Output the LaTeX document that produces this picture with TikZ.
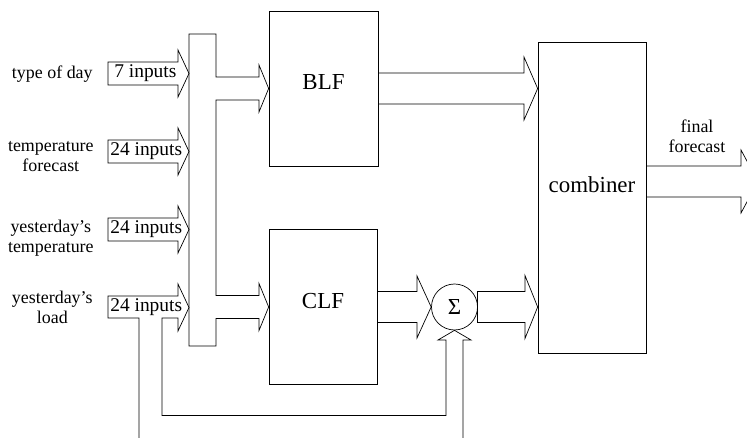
\documentclass[tikz,border=0pt]{standalone}
\usepackage{fontspec}
\setmainfont{Liberation Serif}
\usepackage{tikz}
\usetikzlibrary{positioning}

\begin{document}
\begin{tikzpicture}[
    x=1bp, y=-1bp,
    line width=0.7pt,
    line join=miter,
    block/.style={draw, minimum width=108bp, font=\fontsize{23}{26}\selectfont,
                  text depth=13bp},
    sumnode/.style={draw, circle, minimum size=46bp, inner sep=0pt,
                    font=\fontsize{23}{26}\selectfont},
    side/.style={align=center, inner sep=0pt, font=\fontsize{18}{20}\selectfont},
    count/.style={anchor=west, inner sep=0pt, font=\fontsize{19.5}{22}\selectfont}
]
\useasboundingbox (0,0) rectangle (747,438);

% forecasters and combiner
\node[block, minimum width=109bp, minimum height=155bp] (blf) at (323.5,88.5) {BLF};
\node[block, minimum height=155bp] (clf) at (323,307) {CLF};
\node[block, minimum height=311bp, text depth=25bp] (comb) at (592,197.5) {combiner};
\node[sumnode] (sigma) at (454.5,307) {Σ};

% inputs
\node[side, anchor=east] (day) at (93,74) {type of day};
\node[side, anchor=east] (tfc) at (94,157) {temperature\\forecast};
\node[side, anchor=east] (ytemp) at (94,238) {yesterday’s\\temperature};
\node[side, anchor=east] (yload) at (93,307) {yesterday’s\\load};

\draw (108,62) -- (178,62) -- (178,50) -- (189,73.5) -- (178,97) -- (178,85)
    -- (108,85) -- cycle;
\draw (108,140) -- (178,140) -- (178,128) -- (189,151.5) -- (178,175) -- (178,163)
    -- (108,163) -- cycle;
\draw (108,218) -- (178,218) -- (178,206) -- (189,229.5) -- (178,253) -- (178,241)
    -- (108,241) -- cycle;
\draw (139,445) -- (139,318) -- (108,318) -- (108,296) -- (178,296) -- (178,284)
    -- (189,307.5) -- (178,331) -- (178,318) -- (162,318) -- (162,415.5)
    -- (446,415.5) -- (446,340) -- (438,340) -- (sigma.south) -- (471,340)
    -- (463,340) -- (463,445);

\node[count] (n1) at (114,73.5) {7 inputs};
\node[count] (n2) at (110,151.5) {24 inputs};
\node[count] (n3) at (110,229.5) {24 inputs};
\node[count] (n4) at (110,307.5) {24 inputs};

% bus to BLF and CLF
\draw (189,34) -- (216,34) -- (216,77) -- (259,77) -- (259,65) -- (blf.west)
    -- (259,112) -- (259,100) -- (216,100) -- (216,295.5) -- (259,295.5)
    -- (259,283.5) -- (clf.west) -- (259,330.5) -- (259,318.5) -- (216,318.5)
    -- (216,346) -- (189,346) -- cycle;

% outputs
\draw (blf.east) ++(0,-15.5) -- (524,73) -- (524,57) -- (comb.west |- blf.east)
    -- (524,120) -- (524,104) -- (378,104);
\draw (clf.east) ++(0,-15.5) -- (417,291.5) -- (417,276) -- (sigma.west)
    -- (417,338) -- (417,322.5) -- (377,322.5);
\draw (477.5,322.5) -- (477.5,291.5) -- (525,291.5) -- (525,275.5)
    -- (comb.west |- sigma.east) -- (525,338.5) -- (525,322.5) -- cycle;
\draw (646,166) -- (741,166) -- (741,150) -- (758,181.5) -- (741,213)
    -- (741,197) -- (646,197);
\node[side] (final) at (697,136) {final\\forecast};
\end{tikzpicture}
\end{document}
